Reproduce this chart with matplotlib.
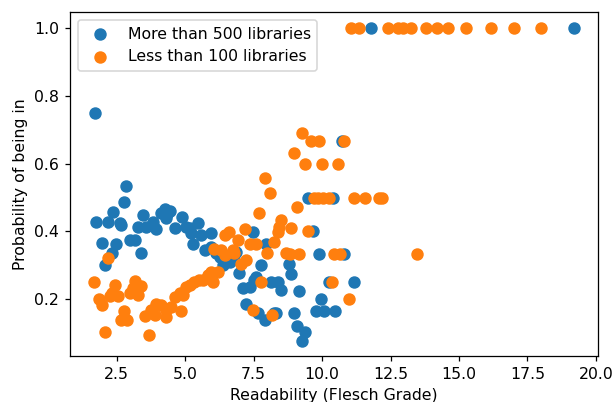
import numpy as np
import matplotlib
matplotlib.use("Agg")
import matplotlib.pyplot as plt

# readability grade vs probability, two groups of libraries
big_x = [1.7, 2.85, 2.77, 2.37, 3.46, 1.76, 2.18, 2.61, 2.67, 3.28, 3.58, 3.82, 3.95,
         4.13, 4.25, 4.35, 4.3, 4.43, 4.62, 4.88, 5.04, 5.16, 5.22, 5.46, 5.59, 5.95,
         5.28, 5.71, 5.95, 6.14, 6.26, 2.97, 3.16, 1.97, 2.46, 3.38, 2.31, 2.06,
         6.38, 6.62, 6.8, 6.86, 6.98, 7.47, 7.96, 7.78, 7.11, 7.35, 7.53, 7.6,
         8.14, 8.38, 8.5, 7.23, 7.65, 7.9, 8.26, 8.78, 8.87, 9.17, 9.9, 10.81,
         9.48, 10.39, 10.73, 9.66, 10.26, 11.18, 9.96, 9.78, 10.08, 10.47, 8.99,
         9.08, 9.36, 9.27, 8.3, 11.79, 19.2]
big_y = [0.75, 0.535, 0.487, 0.456, 0.448, 0.428, 0.428, 0.424, 0.418, 0.414, 0.412, 0.428, 0.406,
         0.455, 0.465, 0.45, 0.44, 0.46, 0.409, 0.443, 0.414, 0.409, 0.394, 0.424, 0.389, 0.394,
         0.364, 0.345, 0.355, 0.335, 0.325, 0.376, 0.374, 0.366, 0.362, 0.335, 0.335, 0.30,
         0.30, 0.31, 0.33, 0.34, 0.276, 0.399, 0.364, 0.30, 0.232, 0.236, 0.256, 0.266,
         0.251, 0.251, 0.227, 0.187, 0.158, 0.14, 0.158, 0.303, 0.274, 0.224, 0.333, 0.333,
         0.50, 0.50, 0.667, 0.40, 0.251, 0.251, 0.202, 0.165, 0.165, 0.165, 0.16,
         0.12, 0.102, 0.078, 0.16, 1.0, 1.0]

small_x = [2.18, 1.67, 2.45, 3.16, 3.4, 3.1, 2.97, 3.28, 2.31, 2.55, 2.25, 1.85, 1.97,
           2.77, 2.67, 2.89, 2.06, 3.67, 3.52, 3.76, 3.95, 4.13, 4.31, 4.5, 4.31, 3.89,
           4.86, 4.62, 4.8, 4.92, 5.04, 5.16, 5.34, 5.52, 5.65, 5.83, 5.95, 6.2, 6.01,
           6.07, 6.32, 6.44, 6.74, 6.8, 6.6, 6.44, 7.17, 6.92, 7.35, 7.6, 8.26, 7.98,
           8.69, 7.23, 7.05, 7.78, 7.47, 8.18, 7.68, 8.5, 8.44, 8.38, 7.9, 8.08, 9.07,
           8.88, 9.48, 8.81, 9.17, 10.42, 10.66, 9.27, 9.58, 9.88, 10.79, 8.97, 9.38,
           9.98, 10.57, 9.72, 9.85, 10.02, 10.27, 11.18, 11.58, 12.06, 12.19, 10.36,
           10.98, 13.48, 11.06, 11.36, 12.39, 12.76, 12.96, 13.24, 13.79, 14.18, 14.58,
           15.27, 16.18, 17.0, 17.98]
small_y = [0.322, 0.251, 0.241, 0.254, 0.238, 0.232, 0.217, 0.212, 0.217, 0.209, 0.209, 0.202, 0.182,
           0.165, 0.138, 0.138, 0.103, 0.094, 0.15, 0.167, 0.187, 0.182, 0.167, 0.177, 0.148, 0.153,
           0.165, 0.207, 0.217, 0.212, 0.236, 0.241, 0.251, 0.256, 0.256, 0.271, 0.281, 0.281, 0.251,
           0.347, 0.345, 0.33, 0.345, 0.335, 0.399, 0.389, 0.406, 0.376, 0.364, 0.364, 0.369, 0.335,
           0.335, 0.317, 0.305, 0.251, 0.167, 0.153, 0.455, 0.433, 0.414, 0.399, 0.557, 0.514, 0.471,
           0.411, 0.40, 0.333, 0.333, 0.333, 0.333, 0.691, 0.667, 0.667, 0.667, 0.632, 0.60,
           0.60, 0.60, 0.50, 0.50, 0.50, 0.50, 0.50, 0.50, 0.50, 0.50, 0.251,
           0.20, 0.334, 1.0, 1.0, 1.0, 1.0, 1.0, 1.0, 1.0, 1.0, 1.0,
           1.0, 1.0, 1.0, 1.0]

DPI = 113
fig = plt.figure(figsize=(614 / DPI, 402 / DPI), dpi=DPI)
ax = fig.add_axes([0.114, 0.114, 0.86, 0.855])

ax.scatter(big_x, big_y, s=48, label="More than 500 libraries")
ax.scatter(small_x, small_y, s=48, label="Less than 100 libraries")
ax.set_xlabel("Readability (Flesch Grade)")
ax.set_ylabel("Probability of being in")
ax.legend(loc="upper left")

fig.savefig("out.png", dpi=DPI)
